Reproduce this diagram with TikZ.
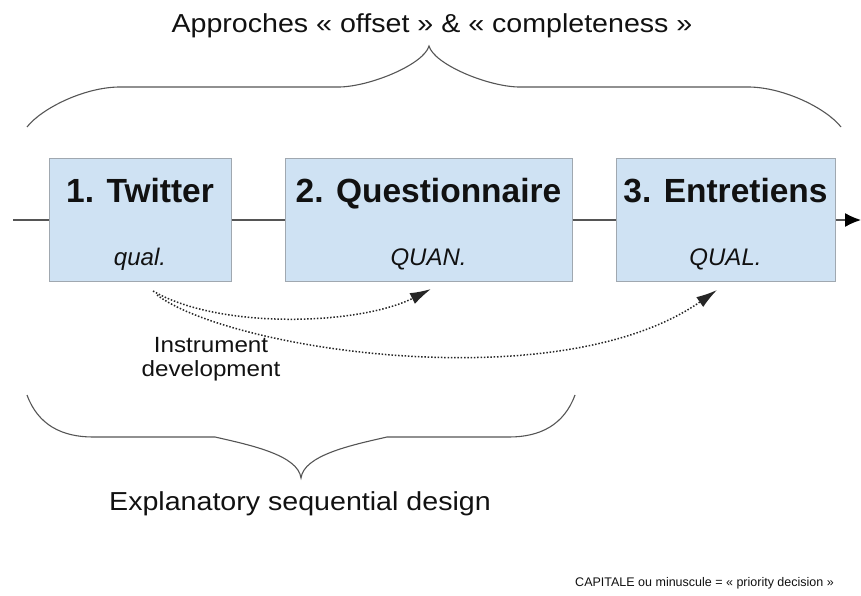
\documentclass[tikz,border=0pt]{standalone}
\usepackage{fontspec}
\setmainfont{Liberation Sans}
\newfontfamily\labelfont[FakeStretch=1.1]{Liberation Sans}
\usetikzlibrary{arrows.meta}
\definecolor{boxfill}{HTML}{CFE2F3}
\definecolor{boxline}{HTML}{A0A8B0}
\definecolor{flowline}{HTML}{555555}
\definecolor{dotline}{HTML}{262626}
\definecolor{ink}{HTML}{111111}
\begin{document}
\begin{tikzpicture}[x=1pt,y=-1pt,
  stagebox/.style={draw=boxline, line width=1pt, fill=boxfill, inner sep=0pt, minimum height=122pt},
  stagetitle/.style={anchor=base, inner sep=0pt, text=ink, font=\fontsize{33.5}{40}\selectfont\bfseries},
  stagekind/.style={anchor=base, inner sep=0pt, text=ink, font=\fontsize{24}{28}\selectfont\itshape},
  caption/.style={anchor=base, inner sep=0pt, text=ink, font=\labelfont\fontsize{26}{30}\selectfont},
  flow/.style={draw=flowline, line width=1.3pt},
  devlink/.style={draw=dotline, line width=1.5pt, dash pattern=on 1.5pt off 1.8pt,
    -{Latex[length=21pt,width=12pt]}},
  bracepath/.style={draw=flowline, line width=1.1pt}
]
\useasboundingbox (0,0) rectangle (861,596);

% stages
\node[stagebox, minimum width=182pt] (twitter) at (140,220) {};
\node[stagebox, minimum width=287pt] (quest) at (428.5,220) {};
\node[stagebox, minimum width=219pt] (entre) at (725.5,220) {};

\node[stagetitle] (twitterT) at (140,202) {1. Twitter};
\node[stagetitle] (questT) at (428.5,202) {2. Questionnaire};
\node[stagetitle] (entreT) at (725.5,202) {3. Entretiens};

\node[stagekind] (twitterK) at (140,265) {qual.};
\node[stagekind] (questK) at (428.5,265) {QUAN.};
\node[stagekind] (entreK) at (725.5,265) {QUAL.};

% main flow line
\coordinate (flowin) at (13,220);
\coordinate (flowout) at (861,220);
\draw[flow] (flowin) -- (twitter.west);
\draw[flow] (twitter.east) -- (quest.west);
\draw[flow] (quest.east) -- (entre.west);
\draw[flow, -{Latex[length=16pt,width=14pt,color=black]}] (entre.east) -- (flowout);

% instrument development links
\coordinate (devA) at (153,291);
\coordinate (devB) at (157,295);
\coordinate (toQuest) at (431,289);
\coordinate (toEntre) at (717,290);
\draw[devlink] (devA) .. controls (220,330) and (360,325) .. (toQuest);
\draw[devlink] (devB) .. controls (230,350) and (560,400) .. (toEntre);

\node[caption, font=\labelfont\fontsize{22}{24}\selectfont, align=center, anchor=north]
  (instr) at (211,337) {Instrument\\development};

% upper brace
\draw[bracepath] (27,127) .. controls (42,108) and (85,87) .. (120,87)
  -- (340,87) .. controls (372,86) and (424,64) .. (429,46)
  .. controls (434,64) and (486,86) .. (518,87)
  -- (748,87) .. controls (783,87) and (826,108) .. (841,127);
\node[caption] (offset) at (432,33) {Approches « offset » \& « completeness »};

% lower brace
\draw[bracepath] (27,395) .. controls (38,425) and (62,437) .. (93,437)
  -- (215,437) .. controls (250,445) and (298,455) .. (301,478)
  .. controls (304,455) and (352,445) .. (387,437)
  -- (509,437) .. controls (540,437) and (564,425) .. (575,395);
\node[caption] (design) at (300,510) {Explanatory sequential design};

% note
\node[anchor=base east, inner sep=0pt, text=ink, font=\fontsize{12.5}{14}\selectfont]
  (note) at (834,586) {CAPITALE ou minuscule = « priority decision »};
\end{tikzpicture}
\end{document}
